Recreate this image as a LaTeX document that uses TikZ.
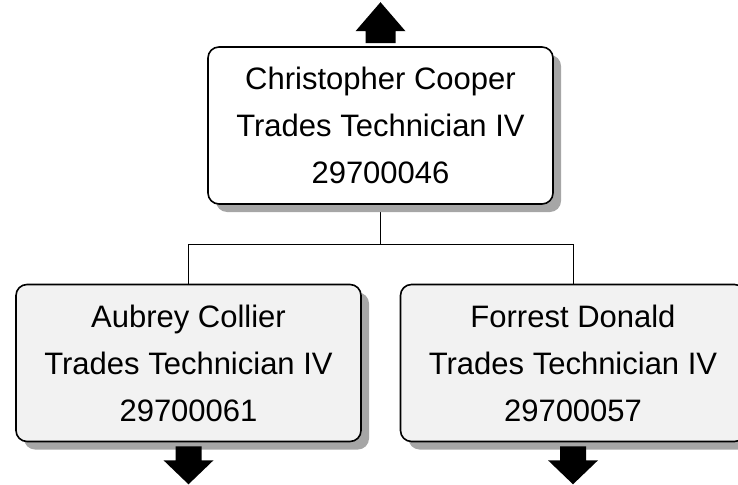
\documentclass[tikz,border=0pt]{standalone}
\usepackage{fontspec}
\setmainfont{Liberation Sans}
\usetikzlibrary{shadows,backgrounds}
\definecolor{shadowgray}{HTML}{A6A6A6}
\definecolor{boxgray}{HTML}{F2F2F2}
\tikzset{
  person/.style={draw=black, line width=1.6pt, rounded corners=11pt,
    minimum width=345pt, minimum height=157pt, inner sep=0pt,
    align=center, font=\fontsize{31}{47}\selectfont,
    general shadow={fill=shadowgray, shadow xshift=8pt, shadow yshift=-8pt}},
  link/.style={draw=black, line width=1pt},
  blockarrow/.style={fill=black}
}
\begin{document}
\begin{tikzpicture}[x=1pt,y=-1pt]
\useasboundingbox (0,0) rectangle (738,484);
\node[person, fill=white] (top) at (380.5,125.5) {Christopher Cooper\\Trades Technician IV\\29700046};
\node[person, fill=boxgray] (left) at (188.5,363) {Aubrey Collier\\Trades Technician IV\\29700061};
\node[person, fill=boxgray] (right) at (573,363) {Forrest Donald\\Trades Technician IV\\29700057};
\begin{scope}[on background layer]
\draw[link] (top.south) -- ++(0,40) -| (left.north);
\draw[link] (top.south) -- ++(0,40) -| (right.north);
\end{scope}
\fill[blockarrow, shift={(top.north)}] (-15,-3) -- (-15,-15) -- (-25,-15) -- (0,-44) -- (25,-15) -- (15,-15) -- (15,-3) -- cycle;
\fill[blockarrow, shift={(left.south)}] (-13,4) -- (-13,18) -- (-25,18) -- (0,42) -- (25,18) -- (13,18) -- (13,4) -- cycle;
\fill[blockarrow, shift={(right.south)}] (-13,4) -- (-13,18) -- (-25,18) -- (0,42) -- (25,18) -- (13,18) -- (13,4) -- cycle;
\end{tikzpicture}
\end{document}
